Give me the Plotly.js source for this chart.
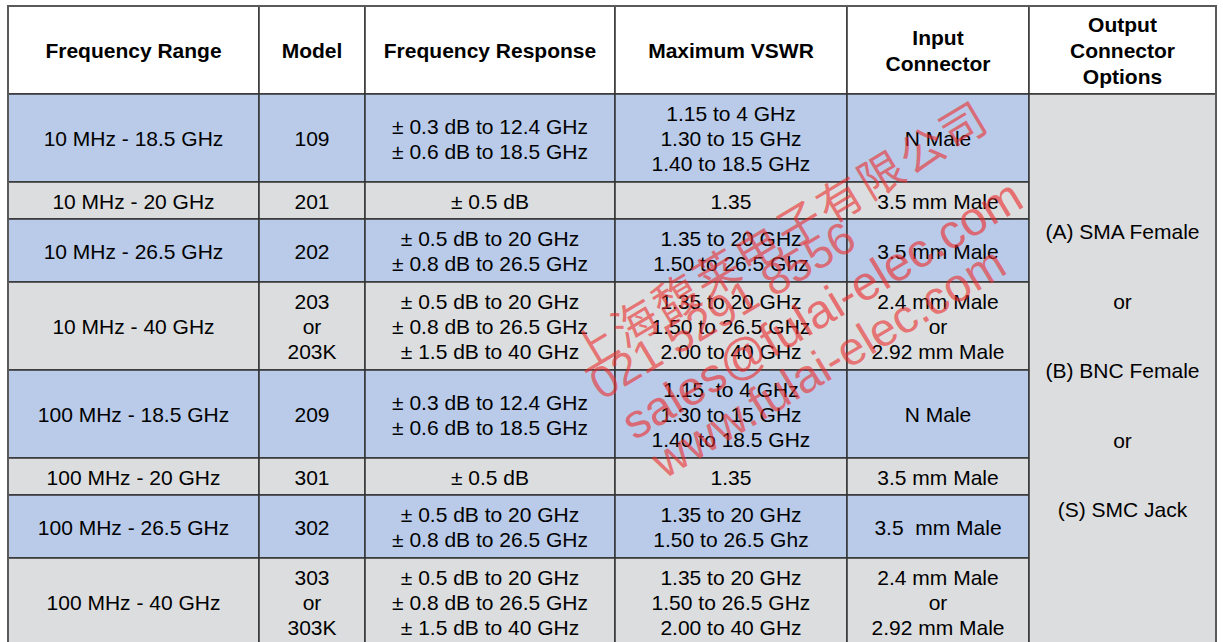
<!DOCTYPE html>
<html><head><meta charset="utf-8">
<script src="https://cdn.plot.ly/plotly-3.0.1.min.js"></script>
<style>html,body{margin:0;padding:0;background:#fff}#chart{width:1223px;height:642px}</style>
</head><body><div id="chart"></div>
<script>
// ---- table content ----
const headers = ['Frequency Range', 'Model', 'Frequency Response', 'Maximum VSWR', 'Input<br>Connector', 'Output<br>Connector<br>Options'];
const frequencyRange = ['10 MHz - 18.5 GHz', '10 MHz - 20 GHz', '10 MHz - 26.5 GHz', '10 MHz - 40 GHz',
  '100 MHz - 18.5 GHz', '100 MHz - 20 GHz', '100 MHz - 26.5 GHz', '100 MHz - 40 GHz'];
const model = ['109', '201', '202', '203<br>or<br>203K', '209', '301', '302', '303<br>or<br>303K'];
const frequencyResponse = [
  '± 0.3 dB to 12.4 GHz<br>± 0.6 dB to 18.5 GHz',
  '± 0.5 dB',
  '± 0.5 dB to 20 GHz<br>± 0.8 dB to 26.5 GHz',
  '± 0.5 dB to 20 GHz<br>± 0.8 dB to 26.5 GHz<br>± 1.5 dB to 40 GHz',
  '± 0.3 dB to 12.4 GHz<br>± 0.6 dB to 18.5 GHz',
  '± 0.5 dB',
  '± 0.5 dB to 20 GHz<br>± 0.8 dB to 26.5 GHz',
  '± 0.5 dB to 20 GHz<br>± 0.8 dB to 26.5 GHz<br>± 1.5 dB to 40 GHz'];
const maximumVSWR = [
  '1.15 to 4 GHz<br>1.30 to 15 GHz<br>1.40 to 18.5 GHz',
  '1.35',
  '1.35 to 20 GHz<br>1.50 to 26.5 Ghz',
  '1.35 to 20 GHz<br>1.50 to 26.5 GHz<br>2.00 to 40 GHz',
  '1.15\u00a0 to 4 GHz<br>1.30 to 15 GHz<br>1.40 to 18.5 GHz',
  '1.35',
  '1.35 to 20 GHz<br>1.50 to 26.5 Ghz',
  '1.35 to 20 GHz<br>1.50 to 26.5 GHz<br>2.00 to 40 GHz'];
const inputConnector = ['N Male', '3.5 mm Male', '3.5 mm Male', '2.4 mm Male<br>or<br>2.92 mm Male',
  'N Male', '3.5 mm Male', '3.5\u00a0 mm Male', '2.4 mm Male<br>or<br>2.92 mm Male'];
const outputConnectorOptions = ['(A) SMA Female', 'or', '(B) BNC Female', 'or', '(S) SMC Jack'];
const watermark = ['上海馥莱电子有限公司', '021 5291 8556', 'sales@fulai-elec.com', 'www.fulai-elec.com'];

// ---- layout constants (not data) ----
const W = 1223, H = 642;
const colEdges = [8, 259, 365, 615, 847, 1029, 1216];
const tableTop = 6;
const headerHeight = 88;
const rowHeightByLines = {1: 37, 2: 63, 3: 88};
const lineStep = 25, headerLineStep = 26, textShift = 3;
const blue = '#b9cbe9', gray = '#dcdddf';
const borderColor = '#333333';
const FONT = 'Liberation Sans, Arial, Helvetica, sans-serif';

const bodyCols = [frequencyRange, model, frequencyResponse, maximumVSWR, inputConnector];
const nRows = frequencyRange.length;
const split = s => s.split('<br>');

// compute row edges
const rowEdges = [tableTop, tableTop + headerHeight];
for (let r = 0; r < nRows; r++) {
  const n = Math.max(...bodyCols.map(c => split(c[r]).length));
  rowEdges.push(rowEdges[rowEdges.length - 1] + rowHeightByLines[n]);
}
const tableBottom = rowEdges[rowEdges.length - 1];
const colCenter = c => (colEdges[c] + colEdges[c + 1]) / 2;

const shapes = [];
const rect = (x0, y0, x1, y1, fill) => shapes.push({type: 'rect', xref: 'x', yref: 'y', x0, y0, x1, y1,
  fillcolor: fill, line: {color: borderColor, width: 1.5}, layer: 'below'});

// header cells
for (let c = 0; c < headers.length; c++) rect(colEdges[c], rowEdges[0], colEdges[c + 1], rowEdges[1], '#ffffff');
// body cells
for (let r = 0; r < nRows; r++) {
  const fill = r % 2 === 0 ? blue : gray;
  for (let c = 0; c < bodyCols.length; c++) rect(colEdges[c], rowEdges[r + 1], colEdges[c + 1], rowEdges[r + 2], fill);
}
// merged output-connector cell
rect(colEdges[5], rowEdges[1], colEdges[6], tableBottom, gray);
// outer frame
shapes.push({type: 'rect', xref: 'x', yref: 'y', x0: colEdges[0], y0: tableTop, x1: colEdges[6], y1: tableBottom,
  fillcolor: 'rgba(0,0,0,0)', line: {color: '#5a5a5a', width: 2}, layer: 'below'});

// text points
const hx = [], hy = [], ht = [];
headers.forEach((h, c) => {
  const lines = split(h), cy = (rowEdges[0] + rowEdges[1]) / 2 + textShift;
  lines.forEach((t, i) => { hx.push(colCenter(c)); hy.push(cy + (i - (lines.length - 1) / 2) * headerLineStep); ht.push(t); });
});
const bx = [], by = [], bt = [];
bodyCols.forEach((col, c) => {
  col.forEach((cell, r) => {
    const lines = split(cell), cy = (rowEdges[r + 1] + rowEdges[r + 2]) / 2 + textShift;
    lines.forEach((t, i) => { bx.push(colCenter(c)); by.push(cy + (i - (lines.length - 1) / 2) * lineStep); bt.push(t); });
  });
});
const mergedCenter = (rowEdges[1] + tableBottom) / 2 + textShift;
const mergedStep = 69.5;
outputConnectorOptions.forEach((t, i) => {
  bx.push(colCenter(5)); by.push(mergedCenter + (i - (outputConnectorOptions.length - 1) / 2) * mergedStep); bt.push(t);
});

const traces = [
  {type: 'scatter', mode: 'text', x: hx, y: hy, text: ht, textposition: 'middle center', hoverinfo: 'skip',
   cliponaxis: false, showlegend: false, textfont: {family: FONT, size: 21, color: '#000', weight: 'bold'}},
  {type: 'scatter', mode: 'text', x: bx, y: by, text: bt, textposition: 'middle center', hoverinfo: 'skip',
   cliponaxis: false, showlegend: false, textfont: {family: FONT, size: 21, color: '#000'}}
];

const wmColor = 'rgba(236,45,45,0.62)';
const wmPos = [[776, 234, 45, 'Noto Sans CJK SC'], [722, 310, 45, FONT], [821, 309, 48, FONT], [827, 362, 47, FONT]];
const annotations = watermark.map((t, i) => ({
  text: i === 0 ? t.split('').join('\u200a') : t,
  x: wmPos[i][0], y: wmPos[i][1], xref: 'x', yref: 'y', showarrow: false, textangle: -31,
  font: {family: wmPos[i][3], size: wmPos[i][2], color: wmColor}
}));

const layout = {
  width: W, height: H, margin: {l: 0, r: 0, t: 0, b: 0},
  paper_bgcolor: '#ffffff', plot_bgcolor: '#ffffff',
  xaxis: {range: [0, W], visible: false, fixedrange: true},
  yaxis: {range: [H, 0], visible: false, fixedrange: true},
  shapes, annotations, showlegend: false
};
Plotly.newPlot('chart', traces, layout, {displayModeBar: false, staticPlot: true});
</script></body></html>
